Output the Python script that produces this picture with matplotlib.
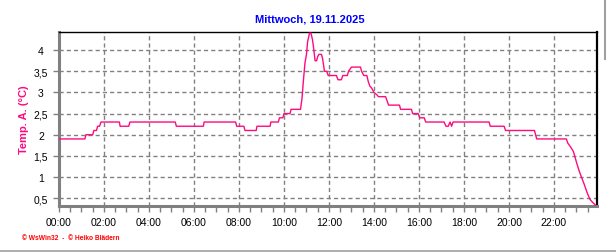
import matplotlib

matplotlib.use("Agg")
import matplotlib.pyplot as plt
from matplotlib.lines import Line2D
from matplotlib.ticker import FuncFormatter, MultipleLocator

# Daten
TIMES = [
    "00:00", "01:09", "01:12", "01:30", "01:33", "01:40", "01:43", "01:48", "01:52",
    "02:41", "02:43", "03:06", "03:09", "05:10", "05:13", "06:25", "06:27", "07:51",
    "07:54", "08:13", "08:16", "08:46", "08:48", "09:23", "09:25", "09:45", "09:48",
    "09:57", "10:00", "10:16", "10:19", "10:44", "10:48", "10:52", "10:56", "11:00",
    "11:03", "11:08", "11:12", "11:16", "11:19", "11:23", "11:27", "11:30", "11:33",
    "11:40", "11:43", "11:48", "11:54", "11:58", "12:20", "12:24", "12:33", "12:37",
    "12:49", "12:52", "13:00", "13:24", "13:27", "13:33", "13:41", "13:45", "13:49",
    "13:54", "14:00", "14:07", "14:12", "14:31", "14:35", "14:39", "15:08", "15:11",
    "15:40", "15:43", "15:58", "16:02", "16:14", "16:18", "17:07", "17:12", "17:18",
    "17:23", "17:27", "17:31", "19:07", "19:10", "19:47", "19:51", "21:08", "21:14",
    "22:33", "22:37", "22:45", "22:52", "23:00", "23:07", "23:14", "23:21", "23:28",
    "23:36", "23:43", "23:51",
]
TEMPS = [
    1.9, 1.9, 2.0, 2.0, 2.1, 2.1, 2.2, 2.2, 2.3,
    2.3, 2.2, 2.2, 2.3, 2.3, 2.2, 2.2, 2.3, 2.3,
    2.2, 2.2, 2.1, 2.1, 2.2, 2.2, 2.3, 2.3, 2.4,
    2.4, 2.5, 2.5, 2.6, 2.6, 2.85, 3.3, 3.7, 3.9,
    4.2, 4.4, 4.4, 4.25, 4.05, 3.75, 3.75, 3.85, 3.9,
    3.9, 3.8, 3.5, 3.5, 3.4, 3.4, 3.3, 3.3, 3.4,
    3.4, 3.5, 3.6, 3.6, 3.5, 3.4, 3.4, 3.25, 3.15,
    3.1, 3.0, 2.95, 2.9, 2.9, 2.8, 2.7, 2.7, 2.6,
    2.6, 2.5, 2.5, 2.4, 2.4, 2.3, 2.3, 2.2, 2.2,
    2.3, 2.2, 2.3, 2.3, 2.2, 2.2, 2.1, 2.1, 1.9,
    1.9, 1.8, 1.7, 1.6, 1.35, 1.15, 0.98, 0.82, 0.64,
    0.47, 0.4, 0.33,
]
TITLE = "Mittwoch, 19.11.2025"
YLABEL = "Temp. A. (°C)"
FOOTER = "© WsWin32  -  © Heiko Blädern"

LINE_COLOR = "#ff0a7f"
GRID_COLOR = "#808080"

plt.rcParams["font.family"] = ["Liberation Sans", "DejaVu Sans"]


def to_hours(hhmm):
    h, m = hhmm.split(":")
    return int(h) + int(m) / 60


def fmt_time(x, pos):
    return f"{int(round(x)):02d}:00"


def fmt_temp(y, pos):
    s = f"{y:.1f}".rstrip("0").rstrip(".")
    return s.replace(".", ",")


def main():
    hours = [to_hours(t) for t in TIMES]

    fig = plt.figure(figsize=(6.16, 2.53), dpi=100)
    ax = fig.add_axes([59 / 616, 1 - 206.7 / 253, (596.7 - 59) / 616, (206.7 - 33) / 253])

    ax.plot(hours, TEMPS, color=LINE_COLOR, linewidth=1.0, zorder=3)

    ax.set_xlim(0, 23.9)
    ax.set_ylim(0.32, 4.43)

    ax.xaxis.set_major_locator(MultipleLocator(2))
    ax.xaxis.set_minor_locator(MultipleLocator(0.5))
    ax.xaxis.set_major_formatter(FuncFormatter(fmt_time))
    ax.yaxis.set_major_locator(MultipleLocator(0.5))
    ax.yaxis.set_major_formatter(FuncFormatter(fmt_temp))

    ax.grid(True, which="major", color=GRID_COLOR, linestyle=(0, (3, 2.2)), linewidth=1.0)

    ax.tick_params(axis="both", which="both", colors=GRID_COLOR, labelcolor="black",
                   labelsize=7.5, width=1.0)
    ax.tick_params(axis="x", which="both", length=4, pad=4)
    ax.tick_params(axis="y", which="major", length=4, pad=9)
    # y-Beschriftungen zentriert wie im Original
    plt.setp(ax.get_yticklabels(), ha="center")

    for side in ("left", "bottom"):
        ax.spines[side].set_color(GRID_COLOR)
        ax.spines[side].set_linewidth(2.2)
    ax.spines["top"].set_color("black")
    ax.spines["top"].set_linewidth(1.0)
    ax.spines["right"].set_color("black")
    ax.spines["right"].set_linewidth(1.6)

    fig.text(310 / 616, 1 - 19 / 253, TITLE, color="#0000ff", fontsize=8,
             fontweight="bold", ha="center", va="center")
    fig.text(24 / 616, 1 - 120 / 253, YLABEL, color=LINE_COLOR, fontsize=8,
             fontweight="bold", rotation=90, ha="center", va="center")
    fig.text(22 / 616, 1 - 239 / 253, FOOTER, color="#ff0000", fontsize=4.8,
             fontweight="bold", ha="left", va="center")

    # Fensterrahmen: unten durchgehend, rechts nur oben sichtbar
    fig.add_artist(Line2D([0, 1], [1 - 251.5 / 253] * 2, color="#a0a0a0", linewidth=1.2,
                          transform=fig.transFigure))
    fig.add_artist(Line2D([605 / 616] * 2, [1, 1 - 60 / 253], color="#a0a0a0", linewidth=1.5,
                          transform=fig.transFigure))

    fig.savefig("out.png", dpi=100)


if __name__ == "__main__":
    main()
